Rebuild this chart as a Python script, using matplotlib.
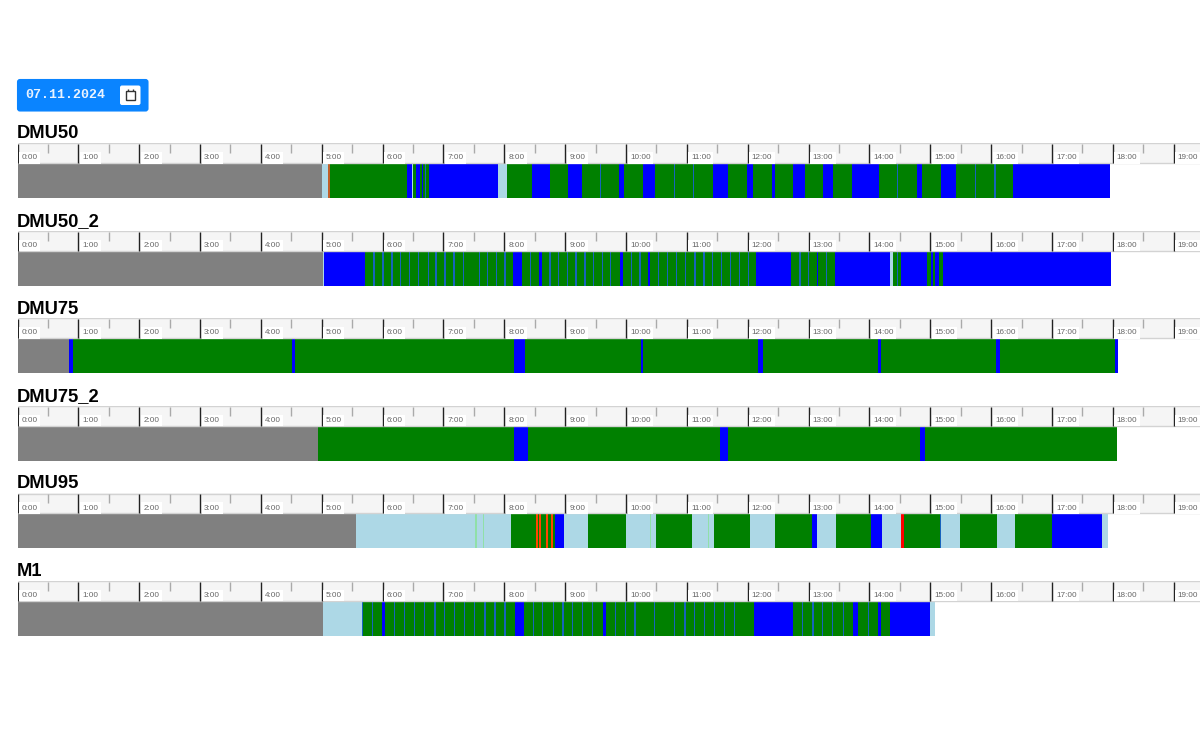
import matplotlib
matplotlib.use("Agg")
import matplotlib.pyplot as plt
from matplotlib.patches import FancyBboxPatch, Rectangle

# machine states
COLORS = {"off": "gray", "idle": "lightblue", "run": "green", "stop": "blue",
          "alarm": "red", "warn": "orangered", "ok": "lightgreen"}
THIN_COLORS = {"stop": "#1763bd", "ok": "#90e0a8", "alarm": "#c0602a"}

HOURS = list(range(0, 20))
DATE_LABEL = "07.11.2024"

# every list below: minutes after midnight where the state changes, last one is the end
DMU50_times = [0, 300.2, 307, 384, 388.7, 390, 393, 397, 399, 400.3, 405.4, 473.8, 482.6, 507.3, 525,
               542.8, 556.3, 593.4, 598, 616.4, 628.8, 685.4, 700.5, 719, 724.9, 743.6, 746.9, 764.3,
               776.7, 794.2, 804.3, 822.5, 849.5, 886.6, 892, 910.6, 925.6, 981.3, 1077]
DMU50_states = ["off", "idle", "run", "stop", "idle", "run", "stop", "run", "stop", "run", "stop", "idle",
                "run", "stop", "run", "stop", "run", "stop", "run", "stop", "run", "stop", "run", "stop",
                "run", "stop", "run", "stop", "run", "stop", "run", "stop", "run", "stop", "run", "stop",
                "run", "stop"]
# one minute flickers inside a longer state
DMU50_thin = [("alarm", 307), ("stop", 402.5), ("stop", 575), ("stop", 647.8), ("stop", 666.5),
              ("stop", 867.7), ("stop", 944.8), ("stop", 963.9)]

DMU50_2_times = [0, 301, 302, 342.7, 488.9, 497.7, 514.5, 517.2, 594, 597, 622, 623.8, 728.1, 763, 788,
                 789.6, 806, 860.3, 863.3, 870.9, 897, 900.4, 902.4, 904.7, 908.9, 912.8, 1078]
DMU50_2_states = ["off", "idle", "stop", "run", "stop", "run", "stop", "run", "stop", "run", "stop", "run",
                  "stop", "run", "stop", "run", "stop", "idle", "run", "stop", "run", "stop",
                  "run", "stop", "run", "stop"]
DMU50_2_thin = [("stop", m) for m in
                [351.5, 359.7, 360.5, 369.3, 377.8, 386.3, 395.2, 405, 412.7, 421.5, 430.4, 439.6, 455.3,
                 463.6, 472.5, 480.7, 506, 525, 533.6, 542.1, 550.7, 559.5, 567.7, 577, 584.9, 605.6,
                 613.8, 631.8, 641.1, 650, 658.9, 668, 676.9, 685.5, 694.3, 703.2, 711.7, 720.6, 771.5,
                 779.7, 797.9, 867.6]]

DMU75_times = [0, 50.8, 54.7, 270.7, 274, 490, 500.4, 614.8, 616.7, 730, 735, 848.4, 851.4, 964.8, 968.7,
               1082.2, 1085.2]
DMU75_states = ["off", "stop", "run", "stop", "run", "stop", "run", "stop", "run", "stop", "run", "stop",
                "run", "stop", "run", "stop"]
DMU75_thin = []

DMU75_2_times = [0, 296.3, 490, 503.3, 692.7, 700.5, 889.8, 894.8, 1084.1]
DMU75_2_states = ["off", "run", "stop", "run", "stop", "run", "stop", "run"]
DMU75_2_thin = []

DMU95_times = [0, 333.8, 486.6, 511, 513, 514, 516, 520.8, 523, 526.4, 528.4, 529.7, 539.1, 562.5,
               600.3, 629.3, 665, 686.5, 722.2, 746.9, 783, 788.6, 807, 841.6, 852.4, 871.4, 874.1,
               910.4, 929.3, 965.5, 983.8, 1020, 1069, 1075.3]
DMU95_states = ["off", "idle", "run", "warn", "run", "warn", "run", "warn", "run", "warn", "run", "stop",
                "idle", "run", "idle", "run", "idle", "run", "idle", "run", "stop", "idle", "run", "stop",
                "idle", "alarm", "run", "idle", "run", "idle", "run", "stop", "idle"]
DMU95_thin = [("ok", 452.1), ("ok", 459.3), ("ok", 624), ("ok", 681.5), ("stop", 909.8)]

M1_times = [0, 301.2, 340, 359.7, 362.6, 490.2, 499.4, 577, 580.3, 726.5, 765, 823.5, 829, 848.8, 851.1,
            860.3, 899.7, 904.6]
M1_states = ["off", "idle", "run", "stop", "run", "stop", "run", "stop", "run", "stop", "run", "stop",
             "run", "stop", "run", "stop", "idle"]
M1_thin = [("stop", m) for m in
           [340, 349.8, 371.9, 381.8, 391.6, 401.5, 411.6, 421.2, 430.7, 440.9, 450.8, 461, 470.8, 480.7,
            508.6, 517.8, 528.3, 537.9, 547, 556.9, 566.8, 589.8, 599.3, 608.9, 627.9, 647.6, 658.2,
            667.3, 677.2, 687.4, 697.3, 707.2, 774.2, 784.4, 793.9, 803.8, 814.2, 839.3]]

MACHINES = [
    ("DMU50", DMU50_times, DMU50_states, DMU50_thin),
    ("DMU50_2", DMU50_2_times, DMU50_2_states, DMU50_2_thin),
    ("DMU75", DMU75_times, DMU75_states, DMU75_thin),
    ("DMU75_2", DMU75_2_times, DMU75_2_states, DMU75_2_thin),
    ("DMU95", DMU95_times, DMU95_states, DMU95_thin),
    ("M1", M1_times, M1_states, M1_thin),
]

W, H = 1200, 740
LEFT = 17.5
PX_PER_MIN = 1.0142
ROW_TOP = 143
ROW_STEP = 87.5
THIN_WIDTH = 1.3

fig = plt.figure(figsize=(W / 100, H / 100), dpi=100)

# page overlay in pixels, for the date button
page = fig.add_axes([0, 0, 1, 1])
page.set_xlim(0, W)
page.set_ylim(H, 0)
page.axis("off")
page.add_patch(FancyBboxPatch((18, 80), 129.5, 30.5, boxstyle="round,pad=0,rounding_size=2",
                              fc="#0a84ff", ec="#0a84ff", lw=1.5))
page.text(25.5, 95.5, DATE_LABEL, family="Liberation Mono", weight="bold", fontsize=9.5,
          color="#e8f2ff", va="center", ha="left")
page.add_patch(FancyBboxPatch((120, 85.5), 20.5, 19.5, boxstyle="round,pad=0,rounding_size=2", fc="white", ec="none"))
page.add_patch(Rectangle((125.5, 90.7), 9.5, 9.5, fc="white", ec="#333333", lw=1))
page.add_patch(Rectangle((125.5, 90.7), 9.5, 1.4, fc="#333333", ec="none"))
page.vlines([127.5, 133], 88.8, 90.7, color="#333333", lw=1)

for i, (name, times, states, thin) in enumerate(MACHINES):
    top = ROW_TOP + i * ROW_STEP
    page.text(17, top - 9, name, family="Liberation Sans", weight="bold", fontsize=13.2,
              color="black", va="center", ha="left")

    ax = fig.add_axes([LEFT / W, 1 - (top + 55) / H, (W - LEFT) / W, 55 / H])
    ax.set_xlim(0, (W - LEFT) / PX_PER_MIN)
    ax.set_ylim(55, 0)
    ax.axis("off")
    ax.patch.set_alpha(0)

    # time ruler
    ax.axhspan(0, 20.5, color="whitesmoke", lw=0)
    ax.hlines([0.5, 20], 0, (W - LEFT) / PX_PER_MIN, color="lightgray", lw=1)
    for h in HOURS:
        ax.vlines(h * 60, 1, 20, color="#222222", lw=1)
        ax.vlines(h * 60 + 30, 1, 10, color="#aaaaaa", lw=1)
        ax.text(h * 60 + 4, 15, f"{h}:00", fontsize=5.9, color="#666666", family="Liberation Sans",
                va="center", ha="left",
                bbox=dict(fc="white", ec="none", boxstyle="square,pad=0.3"))

    # state bar
    for start, end, state in zip(times[:-1], times[1:], states):
        ax.broken_barh([(start, end - start)], (20.5, 34.5), facecolor=COLORS[state], lw=0)
    for state, m in thin:
        ax.broken_barh([(m - THIN_WIDTH / 2, THIN_WIDTH)], (20.5, 34.5), facecolor=THIN_COLORS[state], lw=0)

fig.savefig("out.png", dpi=100)
